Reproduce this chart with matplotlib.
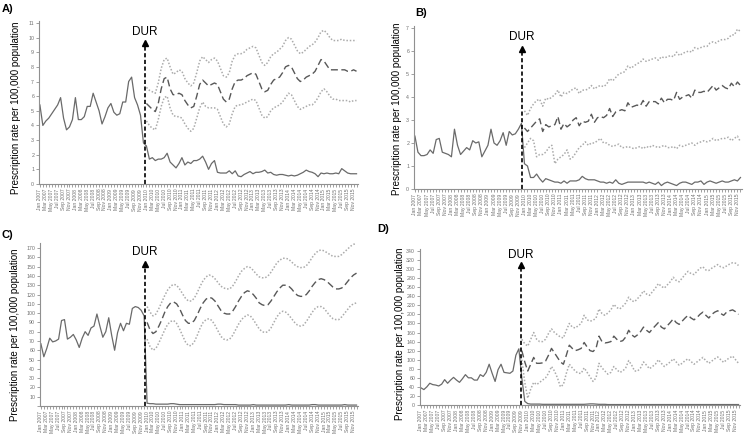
import numpy as np
import matplotlib.pyplot as plt

plt.rcParams['font.family'] = ['Liberation Sans', 'DejaVu Sans']

# month index 0 = Jan 2007 ... 107 = Dec 2015
month_names = ['Jan', 'Feb', 'Mar', 'Apr', 'May', 'Jun',
               'Jul', 'Aug', 'Sep', 'Oct', 'Nov', 'Dec']
tick_months = list(range(0, 108, 2))
tick_labels = [f"{month_names[m % 12]} {2007 + m // 12}" for m in tick_months]

# ---- panel A ----
a_pre = [5.4, 4.0, 4.3, 4.5, 4.8, 5.1, 5.4, 5.9, 4.5, 3.7,
         3.9, 4.4, 5.9, 4.4, 4.4, 4.6, 5.3, 5.3, 6.2, 5.6,
         5.0, 4.1, 4.6, 5.2, 5.5, 4.9, 4.7, 4.8, 5.6, 5.6,
         7.0, 7.3, 5.9, 5.4, 4.7, 2.8]
a_post = [2.6, 1.7, 1.8, 1.6, 1.7, 1.7, 1.8, 2.1, 1.5, 1.3,
          1.1, 1.4, 1.8, 1.3, 1.5, 1.4, 1.6, 1.6, 1.7, 1.9,
          1.5, 1.0, 1.4, 1.6, 0.8, 0.75, 0.75, 0.75, 0.9, 0.7,
          0.9, 0.55, 0.5, 0.65, 0.75, 0.85, 0.7, 0.8, 0.8, 0.85,
          0.95, 0.75, 0.8, 0.65, 0.6, 0.65, 0.65, 0.6, 0.55, 0.6,
          0.55, 0.6, 0.7, 0.8, 0.95, 0.85, 0.8, 0.7, 0.5, 0.75,
          0.7, 0.75, 0.7, 0.7, 0.75, 0.7, 1.05, 0.9, 0.75, 0.7,
          0.7, 0.7]
a_pred = [5.5, 5.3, 5.1, 4.95, 5.5, 6.5, 7.2, 7.3, 6.5, 6.1,
          6.1, 6.2, 6.1, 5.7, 5.4, 5.2, 5.3, 6.0, 6.8, 7.1,
          6.9, 6.7, 6.8, 6.9, 6.8, 6.3, 5.8, 5.6, 5.8, 6.5,
          7.0, 7.1, 7.1, 7.2, 7.4, 7.5, 7.6, 7.5, 7.0, 6.5,
          6.3, 6.4, 6.8, 7.1, 7.2, 7.3, 7.6, 8.0, 8.1, 8.0,
          7.6, 7.2, 7.0, 7.1, 7.3, 7.4, 7.5, 7.7, 8.1, 8.5,
          8.4, 8.1, 7.8, 7.8, 7.8, 7.8, 7.8, 7.8, 7.7, 7.7,
          7.8, 7.7]
a_up = [6.6, 6.4, 6.3, 6.2, 6.9, 7.9, 8.5, 8.6, 8.0, 7.5,
        7.6, 7.8, 7.7, 7.2, 6.9, 6.7, 6.9, 7.6, 8.4, 8.7,
        8.5, 8.3, 8.5, 8.6, 8.4, 7.9, 7.4, 7.3, 7.6, 8.4,
        8.8, 8.9, 8.9, 9.0, 9.2, 9.3, 9.4, 9.3, 8.8, 8.3,
        8.1, 8.3, 8.7, 8.9, 9.0, 9.2, 9.4, 9.8, 10.0, 9.9,
        9.5, 9.1, 8.9, 9.0, 9.2, 9.4, 9.5, 9.7, 10.0, 10.4,
        10.5, 10.3, 10.0, 9.8, 9.8, 9.8, 9.9, 9.8, 9.8, 9.8,
        9.8, 9.8]
a_lo = [4.3, 4.0, 3.8, 3.7, 4.4, 5.3, 5.9, 6.0, 5.2, 4.7,
        4.6, 4.6, 4.5, 4.1, 3.8, 3.6, 3.8, 4.5, 5.2, 5.6,
        5.3, 5.2, 5.2, 5.2, 5.1, 4.6, 4.1, 3.9, 4.1, 4.8,
        5.3, 5.4, 5.4, 5.5, 5.6, 5.7, 5.8, 5.7, 5.2, 4.7,
        4.5, 4.6, 5.0, 5.2, 5.3, 5.4, 5.6, 5.9, 6.2, 6.1,
        5.7, 5.3, 5.1, 5.2, 5.3, 5.4, 5.4, 5.6, 5.9, 6.3,
        6.5, 6.3, 6.0, 5.8, 5.8, 5.7, 5.7, 5.7, 5.7, 5.6,
        5.7, 5.7]

# ---- panel B ----
b_pre = [2.3, 1.6, 1.45, 1.45, 1.5, 1.7, 1.55, 2.15, 2.2, 1.6,
         1.55, 1.5, 1.4, 2.6, 1.9, 1.5, 1.65, 1.8, 1.7, 2.1,
         2.0, 2.05, 1.4, 1.65, 1.9, 2.6, 2.0, 1.9, 2.1, 2.45,
         1.9, 2.5, 2.35, 2.4, 2.6, 2.85]
b_post = [1.1, 1.0, 0.5, 0.5, 0.65, 0.45, 0.3, 0.45, 0.4, 0.35,
          0.3, 0.3, 0.25, 0.35, 0.25, 0.35, 0.35, 0.35, 0.4, 0.55,
          0.45, 0.4, 0.4, 0.4, 0.35, 0.3, 0.3, 0.25, 0.3, 0.25,
          0.4, 0.25, 0.2, 0.25, 0.3, 0.3, 0.3, 0.3, 0.3, 0.3,
          0.25, 0.3, 0.25, 0.2, 0.3, 0.15, 0.25, 0.3, 0.25, 0.2,
          0.15, 0.25, 0.3, 0.3, 0.25, 0.2, 0.3, 0.3, 0.35, 0.2,
          0.3, 0.35, 0.3, 0.25, 0.3, 0.35, 0.3, 0.3, 0.35, 0.4,
          0.35, 0.5]
b_pred = [2.65, 2.5, 2.65, 2.8, 2.95, 3.05, 2.5, 2.8, 2.7, 2.75,
          2.8, 3.15, 2.6, 2.85, 2.7, 2.8, 3.0, 3.1, 2.75, 2.95,
          2.9, 2.95, 3.25, 2.9, 3.1, 3.15, 3.1, 3.2, 3.5, 3.15,
          3.35, 3.4, 3.45, 3.4, 3.75, 3.55, 3.6, 3.65, 3.6, 3.85,
          3.6, 3.8, 3.8, 3.8, 3.7, 3.95, 3.75, 3.9, 3.9, 3.85,
          4.2, 3.9, 4.0, 4.05, 4.1, 3.95, 4.3, 4.2, 4.2, 4.25,
          4.2, 4.35, 4.5, 4.3, 4.4, 4.5, 4.4, 4.35, 4.6, 4.45,
          4.65, 4.5]
b_up = [3.4, 3.2, 3.5, 3.7, 3.85, 3.9, 3.6, 3.95, 3.9, 4.0,
        4.1, 4.3, 4.0, 4.2, 4.15, 4.25, 4.35, 4.4, 4.15, 4.3,
        4.3, 4.35, 4.5, 4.35, 4.45, 4.5, 4.45, 4.55, 4.8, 4.7,
        4.85, 5.0, 5.05, 5.1, 5.35, 5.25, 5.35, 5.45, 5.5, 5.65,
        5.55, 5.6, 5.65, 5.7, 5.6, 5.75, 5.7, 5.75, 5.8, 5.75,
        5.95, 5.8, 5.9, 5.95, 6.0, 5.95, 6.15, 6.1, 6.15, 6.2,
        6.2, 6.35, 6.4, 6.35, 6.45, 6.5, 6.5, 6.55, 6.7, 6.7,
        6.95, 6.85]
b_lo = [1.8, 2.0, 2.2, 2.1, 1.4, 1.5, 1.5, 1.6, 1.8, 1.9,
        1.1, 1.3, 1.4, 1.5, 1.7, 1.3, 1.4, 1.6, 1.8, 1.9,
        2.05, 1.9, 2.0, 2.0, 2.1, 2.2, 2.0, 2.0, 1.9, 1.85,
        1.9, 1.95, 1.8, 1.8, 1.85, 1.8, 1.75, 1.8, 1.85, 1.75,
        1.85, 1.8, 1.9, 1.85, 1.8, 1.85, 1.9, 1.8, 1.8, 1.85,
        1.75, 1.9, 1.85, 1.9, 1.95, 2.0, 1.9, 2.0, 2.05, 2.1,
        2.05, 2.1, 2.2, 2.1, 2.15, 2.2, 2.2, 2.25, 2.1, 2.2,
        2.3, 2.05]

# ---- panel C ----
c_pre = [67, 53, 62, 73, 69, 70, 72, 92, 93, 72,
         74, 77, 71, 63, 73, 80, 76, 84, 86, 99,
         86, 74, 80, 95, 76, 60, 79, 89, 81, 89,
         88, 105, 107, 106, 103, 97]
c_post = [3, 2.5, 2.5, 2, 2, 2, 2, 2, 2.5, 2.5,
          2, 1.5, 1.5, 1.5, 1.5, 1.5, 1.5, 1.5, 1.5, 1.5,
          1.5, 1.5, 1.5, 1.5, 2, 2, 1.5, 1.5, 1.5, 1.5,
          1.5, 1, 1, 1, 1, 1, 1.5, 1, 1, 1,
          1, 1, 1, 1, 1, 1, 1, 1, 1.5, 1,
          1, 1, 1, 1, 1, 1, 1.5, 1.5, 1, 1,
          1, 1, 1, 1, 1, 1, 1, 1.5, 1, 1,
          1, 1]
c_pred = [90, 82, 78, 80, 86, 93, 101, 107, 111, 112,
          110, 105, 98, 92, 89, 89, 92, 98, 105, 111,
          115, 117, 116, 113, 108, 103, 100, 99, 99, 102,
          107, 113, 118, 122, 124, 123, 120, 116, 111, 109,
          108, 109, 113, 118, 123, 127, 130, 130, 129, 126,
          122, 119, 118, 118, 120, 124, 129, 133, 136, 137,
          136, 134, 131, 128, 126, 126, 127, 130, 134, 138,
          141, 143]
c_up = [107, 101, 97, 99, 105, 112, 119, 125, 129, 131,
        130, 126, 121, 116, 113, 113, 116, 122, 129, 135,
        139, 141, 140, 137, 133, 129, 127, 126, 126, 129,
        134, 140, 145, 148, 150, 149, 146, 142, 139, 138,
        138, 140, 144, 149, 154, 157, 159, 159, 158, 155,
        152, 150, 149, 149, 151, 155, 160, 164, 167, 168,
        167, 165, 163, 161, 161, 161, 163, 166, 169, 172,
        174, 175]
c_lo = [72, 64, 60, 62, 68, 75, 82, 88, 91, 92,
        89, 83, 76, 69, 65, 65, 69, 76, 84, 90,
        93, 94, 92, 87, 81, 75, 72, 71, 72, 76,
        82, 88, 93, 96, 98, 97, 93, 88, 83, 80,
        79, 80, 84, 90, 96, 100, 102, 101, 98, 94,
        90, 87, 86, 87, 91, 96, 101, 105, 107, 107,
        105, 101, 97, 94, 93, 93, 96, 100, 104, 108,
        110, 111]

# ---- panel D ----
d_pre = [38, 34, 40, 48, 45, 44, 42, 46, 56, 48,
         55, 61, 55, 50, 58, 67, 60, 60, 55, 55,
         67, 63, 72, 90, 70, 52, 78, 90, 72, 71,
         70, 75, 110, 124]
d_post = [60, 8, 3, 2, 2, 2, 2, 1.5, 1.5, 1.5,
          1.5, 1.5, 1.5, 1.5, 1.5, 1.5, 1.5, 1.5, 1.5, 1.5,
          1.5, 1.5, 2, 2.5, 2.5, 2, 1.5, 1.5, 1.5, 1,
          1, 1, 1, 1, 1, 1, 1, 1, 1, 1,
          1, 1, 1, 1, 1, 1, 1, 1, 1, 1,
          1, 1, 1, 1, 1, 1, 1, 1, 1, 1,
          1, 1, 1, 1, 1, 1, 1, 1, 1, 1,
          1, 1, 1, 1]
d_pred = [120, 95, 75, 90, 105, 92, 92, 93, 97, 110,
          125, 115, 105, 95, 90, 110, 132, 125, 120, 122,
          125, 138, 128, 120, 118, 125, 152, 140, 137, 138,
          140, 152, 145, 140, 142, 150, 165, 155, 150, 155,
          162, 172, 165, 160, 168, 175, 182, 172, 168, 175,
          182, 190, 182, 178, 185, 192, 198, 192, 188, 193,
          200, 205, 198, 192, 200, 205, 208, 202, 198, 205,
          208, 210, 206, 200]
d_up = [145, 135, 130, 145, 160, 145, 140, 140, 145, 158,
        168, 160, 155, 150, 148, 165, 180, 172, 170, 175,
        180, 198, 188, 185, 187, 192, 212, 202, 198, 203,
        210, 222, 215, 212, 218, 225, 238, 230, 228, 235,
        242, 252, 245, 242, 250, 258, 268, 262, 258, 265,
        272, 282, 275, 272, 280, 288, 295, 290, 288, 295,
        302, 305, 298, 297, 302, 306, 310, 305, 303, 307,
        311, 314, 313, 308]
d_lo = [100, 50, 15, 35, 50, 45, 50, 55, 60, 70,
        85, 75, 60, 40, 45, 70, 90, 82, 75, 70,
        70, 82, 72, 62, 52, 60, 92, 82, 75, 68,
        72, 85, 78, 72, 75, 82, 98, 88, 75, 75,
        82, 95, 88, 80, 85, 90, 100, 92, 85, 90,
        95, 102, 95, 88, 92, 98, 102, 96, 90, 95,
        100, 105, 98, 92, 97, 102, 106, 100, 94, 100,
        104, 108, 100, 92]

SOLID = '#6a6a6a'
DASH = '#585858'
DOT = '#ababab'
SPINE = '#909090'
TICKC = '#707070'


def draw_panel(ax, pre, post, pred, up, lo, dur_x, dur_top, dur_text_y,
               yticks, ylim, hide_zero=False):
    start = len(pre)
    x_act = np.arange(start + len(post))
    ax.plot(x_act, list(pre) + list(post), color=SOLID, lw=0.9)
    ax.plot(np.arange(start, start + len(up)), up, color=DOT, lw=1.1,
            linestyle=(0, (1, 1.2)))
    ax.plot(np.arange(start, start + len(lo)), lo, color=DOT, lw=1.1,
            linestyle=(0, (1, 1.2)))
    ax.plot(np.arange(start, start + len(pred)), pred, color=DASH, lw=1.0,
            linestyle=(0, (5, 2.5)))

    # DUR arrow
    ax.plot([dur_x, dur_x], [0, dur_top], color='black', lw=1.2,
            linestyle=(0, (2.5, 1.5)))
    ax.plot(dur_x, dur_top, marker='^', color='black', ms=4.5)
    ax.text(dur_x, dur_text_y, 'DUR', ha='center', va='bottom', fontsize=8.5)

    ax.set_xlim(-0.3, 107.5)
    ax.set_ylim(*ylim)
    ax.set_yticks(yticks)
    ylabels = [str(t) for t in yticks]
    if hide_zero:
        ylabels[0] = ''
    ax.set_yticklabels(ylabels)
    ax.set_xticks(tick_months)
    ax.set_xticklabels(tick_labels, rotation=90)
    ax.set_xticks(range(0, 108), minor=True)

    for s in ['top', 'right']:
        ax.spines[s].set_visible(False)
    for s in ['left', 'bottom']:
        ax.spines[s].set_color(SPINE)
        ax.spines[s].set_linewidth(0.8)
    ax.tick_params(axis='both', which='both', color=SPINE, length=2,
                   width=0.6, pad=1.5)
    ax.tick_params(axis='x', labelsize=3.6, labelcolor=TICKC)
    ax.tick_params(axis='y', labelsize=3.8, labelcolor=TICKC)


fig = plt.figure(figsize=(7.5, 4.44), dpi=100)

W, H = 750.0, 444.0


def add_axes_px(left, right, top, bottom):
    return fig.add_axes([left / W, 1 - bottom / H, (right - left) / W,
                         (bottom - top) / H])


ax_a = add_axes_px(39, 358, 21.5, 184)
ax_b = add_axes_px(414, 742, 25.7, 189)
ax_c = add_axes_px(40, 358, 243.4, 406)
ax_d = add_axes_px(420, 740, 248.7, 405)

draw_panel(ax_a, a_pre, a_post, a_pred, a_up, a_lo, 35.5, 9.6, 10.0,
           list(range(0, 12)), (0, 11.1))
draw_panel(ax_b, b_pre, b_post, b_pred, b_up, b_lo, 35.2, 6.1, 6.35,
           list(range(0, 8)), (0, 7.1))
draw_panel(ax_c, c_pre, c_post, c_pred, c_up, c_lo, 35.3, 153, 159,
           list(range(0, 171, 10)), (0, 175), hide_zero=True)
draw_panel(ax_d, d_pre, d_post, d_pred, d_up, d_lo, 33.8, 309, 318,
           list(range(0, 341, 20)), (0, 345))

ylab = 'Prescription rate per 100,000 population'
for x, y in [(16, 108), (397, 109), (15, 335), (400, 334)]:
    fig.text(x / W, 1 - y / H, ylab, rotation=90, ha='center', va='center',
             fontsize=7)

for lab, x, y in [('A)', 2, 9), ('B)', 415, 13), ('C)', 2, 235), ('D)', 377, 229)]:
    fig.text(x / W, 1 - y / H, lab, ha='left', va='center', fontsize=8,
             fontweight='bold')

fig.savefig('out.png', dpi=100)
